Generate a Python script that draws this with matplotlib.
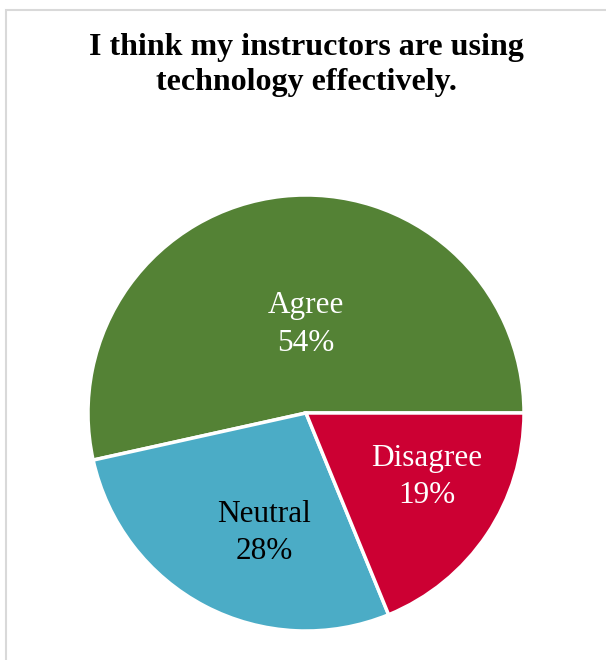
import matplotlib.pyplot as plt
from matplotlib.patches import Rectangle
import numpy as np

plt.rcParams['font.family'] = ['Liberation Serif', 'DejaVu Serif']

# Data
categories = ['Agree', 'Neutral', 'Disagree']
values = [54, 28, 19]
colors = ['#548235', '#4BACC6', '#CC0033']
text_colors = ['white', 'black', 'white']
title = 'I think my instructors are using\ntechnology effectively.'

fig = plt.figure(figsize=(6.06, 6.6), dpi=100)

# light gray chart border (runs off the right/bottom edges)
fig.patches.append(Rectangle((6 / 606, -0.1), 1.2, (660 - 10) / 660 + 0.1,
                             transform=fig.transFigure, fill=False,
                             edgecolor='#D9D9D9', linewidth=1.5))

ax = fig.add_axes([88 / 606, 29 / 660, 436 / 606, 436 / 660])
wedges, _ = ax.pie(values, colors=colors, startangle=0, counterclock=True,
                   radius=1, wedgeprops=dict(edgecolor='white', linewidth=2.5))
ax.set_xlim(-1, 1)
ax.set_ylim(-1, 1)
ax.set_aspect('equal')
ax.axis('off')

# label placement (radius, angle offset from wedge middle)
label_pos = [(0.42, -6), (0.57, 8), (0.62, 7)]
dy = -3 / 218  # small downward nudge, in axes radius units
for w, cat, v, tc, (r, off) in zip(wedges, categories, values, text_colors, label_pos):
    mid = np.deg2rad((w.theta1 + w.theta2) / 2 + off)
    ax.text(r * np.cos(mid), r * np.sin(mid) + dy, f'{cat}\n{v}%',
            ha='center', va='center', color=tc, fontsize=22.5, linespacing=1.38)

fig.text(0.505, 1 - 65 / 660, title, ha='center', va='center',
         fontsize=23, fontweight='bold', linespacing=1.25)

fig.savefig('out.png', dpi=100)
